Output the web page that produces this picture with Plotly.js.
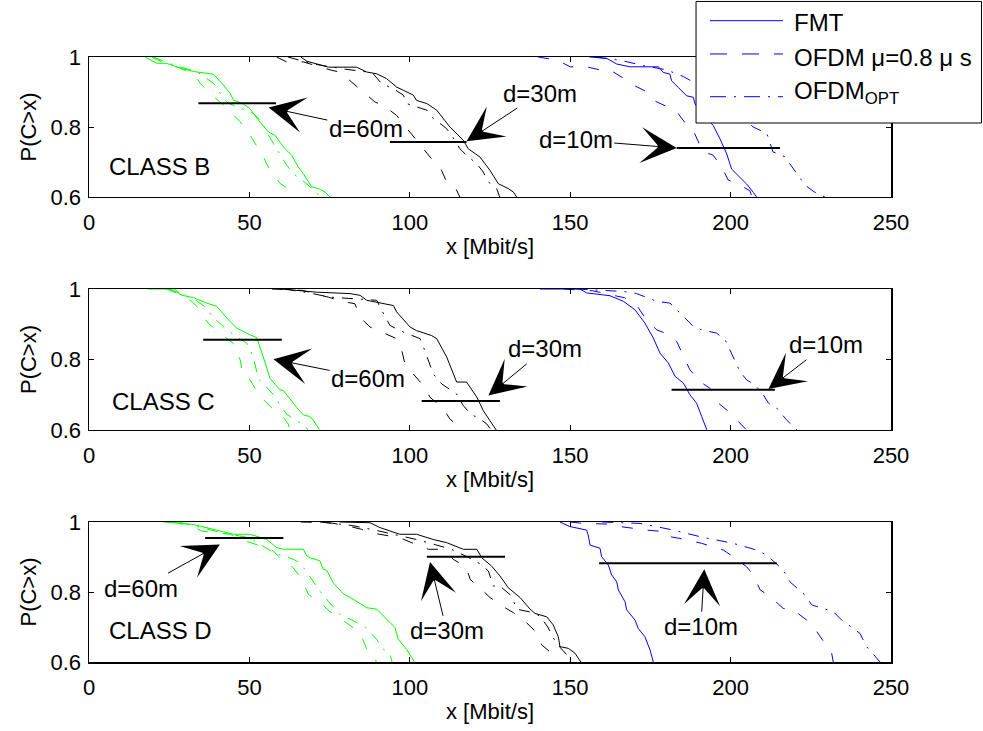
<!DOCTYPE html>
<html>
<head>
<meta charset="utf-8">
<script src="https://cdn.plot.ly/plotly-3.0.1.min.js"></script>
<style>html,body{margin:0;padding:0;background:#fff;}#chart{width:983px;height:731px;}</style>
</head>
<body>
<div id="chart"></div>
<script>
// ---------------- DATA ----------------
const xTicks = [0, 50, 100, 150, 200, 250];
const yTicks = [0.6, 0.8, 1];
const yTickText = ['0.6', '0.8', '1'];
const classes = ['CLASS B', 'CLASS C', 'CLASS D'];
const schemes = ['FMT', 'OFDM \u03bc=0.8 \u03bc s', 'OFDM<sub>OPT</sub>'];
const distances = ['d=60m', 'd=30m', 'd=10m'];

// CLASS B
const B60_FMT  = [[17.5,1],[21.1,0.982],[24.2,0.982],[28.4,0.968],[33.0,0.958],[38.8,0.951],[41.4,0.925],[44.0,0.896],[45.0,0.877],[48.1,0.866],[50.2,0.852],[53.3,0.814],[55.9,0.786],[58.0,0.776],[60.6,0.743],[63.2,0.719],[65.2,0.686],[66.8,0.667],[69.4,0.629],[71.5,0.624],[73.6,0.614],[75.1,0.6]];
const B60_OFDM = [[19.5,1],[23,0.985],[28,0.97],[33.0,0.949],[34.6,0.925],[38.8,0.887],[41.9,0.863],[45.0,0.834],[47.1,0.815],[50.2,0.777],[52.3,0.744],[54.3,0.715],[56.4,0.677],[59.5,0.639],[62.7,0.62],[63.7,0.6]];
const B60_OPT  = [[20,1],[25,0.982],[29,0.97],[33.6,0.958],[38.8,0.925],[41.9,0.882],[43.4,0.868],[47,0.855],[51.2,0.839],[53.8,0.815],[55.9,0.777],[57.5,0.753],[60.1,0.715],[61.6,0.691],[64.2,0.663],[65.8,0.653],[68.9,0.629],[70.4,0.62],[72.0,0.6]];
const B30_FMT  = [[66,1],[67.9,0.988],[74.6,0.971],[83.4,0.971],[86.6,0.957],[89.7,0.952],[92.8,0.938],[95.9,0.914],[98.0,0.905],[101.1,0.891],[102.1,0.876],[105.3,0.867],[108.4,0.848],[110.5,0.824],[112.5,0.8],[116.7,0.762],[118.2,0.738],[121.9,0.714],[125.0,0.676],[127.6,0.638],[130.7,0.624],[132.3,0.614],[133.3,0.6]];
const B30_OFDM = [[58.5,1],[61.6,0.986],[66.8,0.986],[70.4,0.976],[75.6,0.962],[78.2,0.957],[82.4,0.924],[84.5,0.909],[89.2,0.871],[91.7,0.862],[95.9,0.833],[97.5,0.814],[102.1,0.762],[103.7,0.743],[106.8,0.709],[109.4,0.686],[111.5,0.643],[114.1,0.629],[115.6,0.6]];
const B30_OPT  = [[62,1],[70,0.98],[80,0.965],[86,0.958],[88.6,0.952],[91.2,0.924],[94.9,0.909],[98.0,0.891],[99.0,0.867],[105.3,0.848],[106.8,0.829],[111.5,0.795],[114.1,0.762],[115.6,0.738],[117.7,0.719],[120.9,0.695],[122.9,0.671],[124.5,0.643],[127.1,0.624],[128,0.6]];
const B10_FMT  = [[156,1],[161.4,0.996],[164.5,0.98],[168.6,0.972],[177.5,0.972],[179.0,0.956],[181.1,0.951],[181.6,0.932],[183.7,0.913],[186.3,0.889],[188.4,0.885],[188.9,0.866],[191.5,0.835],[194.6,0.804],[196.7,0.766],[198.8,0.723],[200.3,0.68],[201.9,0.666],[205.0,0.637],[207.1,0.613],[208.1,0.6]];
const B10_OFDM = [[140,1],[146,0.991],[150,0.972],[155.1,0.972],[159.3,0.963],[162.4,0.963],[166.5,0.94],[169.6,0.92],[173.8,0.901],[175.8,0.877],[181.1,0.854],[183.2,0.844],[186.3,0.806],[188.3,0.791],[191.4,0.729],[194.5,0.72],[197.2,0.687],[199.2,0.649],[203.5,0.631],[206.0,0.618],[206.7,0.6]];
const B10_OPT  = [[158,1],[166,0.99],[173,0.975],[180.1,0.963],[185.3,0.944],[190,0.92],[195,0.89],[200,0.86],[204,0.83],[207.0,0.8],[211.3,0.782],[213.2,0.729],[216.9,0.715],[220.6,0.669],[223.2,0.634],[226,0.615],[229.4,0.6]];

// CLASS C
const C60_FMT  = [[18.5,1],[26.8,1],[28.4,0.984],[33.0,0.974],[36.7,0.96],[39.8,0.951],[42.9,0.918],[46.0,0.889],[50.2,0.87],[52.3,0.862],[54.3,0.808],[55.9,0.759],[56.4,0.747],[59.5,0.714],[60.6,0.712],[63.7,0.676],[64.7,0.664],[66.8,0.643],[68.9,0.638],[69.9,0.628],[72.0,0.598]];
const C60_OFDM = [[24,1],[28.4,0.985],[32,0.965],[34.1,0.946],[35.1,0.927],[37.5,0.9],[39.8,0.884],[41.4,0.87],[45.5,0.842],[47.1,0.799],[48.1,0.752],[50.2,0.742],[53.3,0.695],[55.4,0.676],[58,0.655],[60.6,0.636],[62.1,0.617],[62.7,0.598]];
const C60_OPT  = [[25,1],[29,0.985],[33,0.97],[36.7,0.946],[38.5,0.92],[40.8,0.903],[42.9,0.884],[46,0.865],[49.2,0.846],[51.2,0.808],[52.8,0.745],[54.9,0.726],[57.5,0.7],[60.1,0.664],[61.6,0.645],[64,0.63],[67.3,0.612],[68.4,0.598]];
const C30_FMT  = [[60,1],[71.0,0.991],[81.4,0.987],[84.5,0.982],[86.6,0.968],[91.7,0.958],[94.9,0.953],[95.9,0.935],[100.1,0.892],[102.1,0.882],[106.8,0.868],[108.4,0.859],[111.5,0.807],[114.6,0.736],[117.7,0.736],[120.9,0.693],[122.9,0.655],[125.0,0.626],[127.1,0.598]];
const C30_OFDM = [[57,1],[60.6,0.998],[66.8,0.996],[69.9,0.987],[74.6,0.977],[77.7,0.968],[82.9,0.958],[84.5,0.92],[87.6,0.892],[91.2,0.878],[95.9,0.859],[97.5,0.825],[98.5,0.788],[101,0.76],[104.2,0.726],[106.3,0.693],[110.5,0.66],[112.5,0.631],[116.7,0.598]];
const C30_OPT  = [[61,1],[68,0.99],[75.1,0.977],[84,0.972],[89.7,0.968],[90.7,0.949],[93.8,0.897],[96.9,0.882],[103.2,0.859],[104.7,0.825],[107.3,0.759],[109.9,0.731],[114.6,0.702],[116.7,0.669],[119,0.645],[121.9,0.631],[124.0,0.617],[125.5,0.598]];
const C10_FMT  = [[140.6,1],[153.1,1],[155.1,0.989],[162.4,0.981],[166.6,0.965],[170.2,0.941],[173.3,0.903],[175.9,0.861],[178.0,0.818],[180.6,0.79],[182.7,0.752],[185.3,0.733],[187.3,0.7],[189.4,0.676],[191.0,0.638],[192.6,0.6]];
const C10_OFDM = [[148,1],[157,0.995],[162,0.985],[167,0.975],[171,0.95],[174,0.91],[177,0.884],[181.1,0.87],[183.2,0.851],[185.3,0.808],[187.3,0.771],[190.5,0.737],[193.6,0.718],[196.2,0.676],[198.8,0.657],[202.4,0.624],[205.5,0.595]];
const C10_OPT  = [[152,1],[166.6,0.993],[170.7,0.987],[174,0.975],[177,0.965],[181.1,0.96],[185.3,0.922],[188.4,0.894],[191,0.884],[195.6,0.875],[198.3,0.856],[199.8,0.827],[200.8,0.804],[202.9,0.766],[205,0.742],[207.6,0.728],[210.2,0.7],[211.8,0.676],[214.4,0.662],[217.5,0.628],[220.1,0.605],[220.7,0.6]];

// CLASS D
const D60_FMT  = [[23.2,1],[32.5,0.993],[38.7,0.979],[45.0,0.965],[50.2,0.965],[55.4,0.95],[58.5,0.927],[60.6,0.922],[66.8,0.922],[67.9,0.903],[68.9,0.898],[72.0,0.889],[73.0,0.865],[74.1,0.862],[76.2,0.825],[79.3,0.795],[82.4,0.779],[86.6,0.755],[89.7,0.751],[93.8,0.712],[95.4,0.698],[96.4,0.665],[99.0,0.636],[101.6,0.598]];
const D60_OFDM = [[26,1],[32,0.989],[35.1,0.974],[40.3,0.969],[44,0.965],[48.6,0.946],[52.3,0.936],[56.9,0.922],[60.1,0.893],[62,0.88],[63.7,0.869],[66.3,0.836],[68.4,0.793],[71.5,0.774],[75,0.745],[79,0.72],[82.4,0.698],[84.5,0.684],[86.6,0.636],[89.2,0.617],[89.5,0.6]];
const D60_OPT  = [[28,1],[35,0.985],[42,0.968],[50,0.955],[54.9,0.927],[58,0.91],[62,0.9],[64.7,0.889],[67.3,0.865],[69.4,0.836],[71.5,0.808],[73.6,0.784],[76.2,0.755],[78.2,0.736],[82,0.72],[86,0.7],[89.7,0.665],[91.2,0.641],[93.8,0.622],[94.5,0.6]];
const D30_FMT  = [[78.2,1],[87.6,0.998],[90.7,0.984],[96.9,0.965],[102.1,0.965],[107.3,0.95],[111.5,0.941],[116.7,0.922],[120.9,0.922],[122.4,0.898],[125.5,0.874],[128.1,0.846],[130.7,0.812],[134.4,0.784],[137.5,0.751],[139.0,0.739],[142.7,0.729],[144.7,0.706],[146.3,0.672],[146.8,0.644],[149.4,0.639],[151.5,0.625],[153.6,0.596]];
const D30_OFDM = [[66,1],[75,0.998],[80,0.99],[85,0.979],[88.1,0.969],[93.3,0.96],[96.9,0.955],[103.2,0.931],[105.8,0.922],[110.5,0.922],[113.6,0.893],[116,0.88],[117.7,0.869],[118.8,0.836],[121.9,0.812],[125,0.784],[127.5,0.77],[129.7,0.755],[132.3,0.741],[136.4,0.712],[139,0.689],[141.1,0.649],[144.2,0.625],[146,0.6]];
const D30_OPT  = [[72,1],[82,0.99],[90,0.975],[97,0.96],[102.1,0.95],[108,0.935],[113,0.922],[118,0.9],[122,0.88],[124.5,0.86],[126,0.817],[128.1,0.817],[131.7,0.789],[133.3,0.751],[136,0.745],[138.5,0.741],[140.6,0.731],[143,0.7],[145,0.665],[147,0.64],[149,0.62],[150,0.6]];
const D10_FMT  = [[146.8,1],[149.9,0.987],[155.1,0.977],[155.6,0.963],[156.2,0.934],[159.3,0.925],[159.8,0.901],[161.9,0.877],[162.9,0.849],[164.5,0.829],[165.0,0.806],[167.1,0.772],[167.6,0.749],[170.2,0.72],[171.2,0.696],[173.3,0.672],[174.9,0.634],[175.9,0.6]];
const D10_OFDM = [[150,1],[154.1,0.996],[161.9,0.994],[165.5,0.987],[173.8,0.977],[180.1,0.972],[181.1,0.958],[184.2,0.953],[191.0,0.939],[194.6,0.929],[197.7,0.92],[200.8,0.901],[205.0,0.872],[207.1,0.849],[209.2,0.806],[212.3,0.787],[216.4,0.753],[219.5,0.749],[223.7,0.72],[225.8,0.701],[229.4,0.653],[231.5,0.625],[232,0.6]];
const D10_OPT  = [[160,1],[171.8,0.996],[182.1,0.977],[190.5,0.958],[200.8,0.939],[208.1,0.92],[211.2,0.906],[216.4,0.863],[218.5,0.829],[223.2,0.791],[225.3,0.763],[232.0,0.744],[234.6,0.72],[240.3,0.682],[242.4,0.644],[246.6,0.6]];

// Reference bars marking each distance group: [subplot, x start, x end, P level]
const markLines = [
  [1, 34.1, 58.3, 0.868], [1, 93.8, 117.7, 0.757], [1, 183.2, 215.4, 0.74],
  [2, 35.6, 60.1, 0.856], [2, 103.7, 128.1, 0.682], [2, 181.6, 213.8, 0.714],
  [3, 36.2, 60.6, 0.954], [3, 105.3, 129.7, 0.901], [3, 159.0, 214.4, 0.882]
];

// ---------------- BUILD ----------------
const distColor = {60: '#00ff00', 30: '#000000', 10: '#0000ff'};
const schemeDash = {FMT: 'solid', OFDM: '11px,15px', OPT: '11px,8px,2px,8px'};
const series = [
  [1,60,'FMT',B60_FMT],[1,60,'OFDM',B60_OFDM],[1,60,'OPT',B60_OPT],
  [1,30,'FMT',B30_FMT],[1,30,'OFDM',B30_OFDM],[1,30,'OPT',B30_OPT],
  [1,10,'FMT',B10_FMT],[1,10,'OFDM',B10_OFDM],[1,10,'OPT',B10_OPT],
  [2,60,'FMT',C60_FMT],[2,60,'OFDM',C60_OFDM],[2,60,'OPT',C60_OPT],
  [2,30,'FMT',C30_FMT],[2,30,'OFDM',C30_OFDM],[2,30,'OPT',C30_OPT],
  [2,10,'FMT',C10_FMT],[2,10,'OFDM',C10_OFDM],[2,10,'OPT',C10_OPT],
  [3,60,'FMT',D60_FMT],[3,60,'OFDM',D60_OFDM],[3,60,'OPT',D60_OPT],
  [3,30,'FMT',D30_FMT],[3,30,'OFDM',D30_OFDM],[3,30,'OPT',D30_OPT],
  [3,10,'FMT',D10_FMT],[3,10,'OFDM',D10_OFDM],[3,10,'OPT',D10_OPT]
];
const sfx = k => (k === 1 ? '' : String(k));

const traces = [];
series.forEach(([k, d, s, pts]) => {
  traces.push({
    type: 'scatter', mode: 'lines',
    x: pts.map(p => p[0]), y: pts.map(p => p[1]),
    xaxis: 'x' + sfx(k), yaxis: 'y' + sfx(k),
    line: {color: distColor[d], width: 1, dash: schemeDash[s]},
    hoverinfo: 'skip', showlegend: false
  });
});
markLines.forEach(([k, x0, x1, p]) => {
  traces.push({
    type: 'scatter', mode: 'lines', x: [x0, x1], y: [p, p],
    xaxis: 'x' + sfx(k), yaxis: 'y' + sfx(k),
    line: {color: '#000', width: 2}, hoverinfo: 'skip', showlegend: false
  });
});

const FONT = 'Liberation Sans, Arial, Helvetica, sans-serif';
const xAx = (anchor) => ({
  anchor: anchor, range: [0, 250], tickvals: xTicks, ticktext: xTicks.map(String),
  showline: true, mirror: 'ticks', linecolor: '#000', linewidth: 1.5,
  ticks: 'inside', ticklen: 5, tickwidth: 1, tickcolor: '#000',
  showgrid: false, zeroline: false, tickfont: {size: 22}, ticklabelstandoff: 5,
  title: {text: 'x [Mbit/s]', font: {size: 22}, standoff: 4}
});
const yAx = (anchor, domain) => ({
  anchor: anchor, domain: domain, range: [0.6, 1], tickvals: yTicks, ticktext: yTickText,
  showline: true, mirror: 'ticks', linecolor: '#000', linewidth: 1.5,
  ticks: 'inside', ticklen: 5, tickwidth: 1, tickcolor: '#000',
  showgrid: false, zeroline: false, tickfont: {size: 22}, ticklabelstandoff: 2,
  title: {text: 'P(C&gt;x)', font: {size: 22}, standoff: 8}
});

const ann = [];
function arrowNote(k, text, tip, tail) {
  ann.push({
    xref: 'x' + sfx(k), yref: 'y' + sfx(k), axref: 'x' + sfx(k), ayref: 'y' + sfx(k),
    x: tip[0], y: tip[1], ax: tail[0], ay: tail[1], text: text,
    showarrow: true, arrowhead: 3, arrowsize: 6, arrowwidth: 1, arrowcolor: '#000',
    standoff: 0, font: {size: 24, color: '#000'}
  });
}
arrowNote(1, distances[0], [56, 0.856], [86.3, 0.796]);
arrowNote(1, distances[1], [117.7, 0.759], [140.6, 0.897]);
arrowNote(1, distances[2], [183.2, 0.74], [151.7, 0.763]);
arrowNote(2, distances[0], [57.5, 0.801], [87, 0.747]);
arrowNote(2, distances[1], [124.5, 0.698], [142.1, 0.83]);
arrowNote(2, distances[2], [211.8, 0.716], [229.7, 0.842]);
arrowNote(3, distances[0], [40.8, 0.936], [16.2, 0.811]);
arrowNote(3, distances[1], [106.3, 0.886], [111.5, 0.689]);
arrowNote(3, distances[2], [191.8, 0.865], [190.7, 0.701]);

[[1, 5.5, 0.687], [2, 6.5, 0.68], [3, 5.5, 0.691]].forEach(([k, x, y], i) => {
  ann.push({xref: 'x' + sfx(k), yref: 'y' + sfx(k), x: x, y: y, text: classes[i],
    showarrow: false, xanchor: 'left', yanchor: 'middle', font: {size: 24, color: '#000'}});
});

// Legend (drawn in paper coordinates)
const shapes = [{
  type: 'rect', xref: 'paper', yref: 'paper', x0: 0.7569, x1: 1.1128, y0: 0.8909, y1: 1.0918,
  line: {color: '#000', width: 1}, fillcolor: '#fff', layer: 'above'
}];
const legY = [1.0600, 1.0050, 0.9344];
const legDash = ['solid', '17px,15px', '16px,8px,2px,8px'];
const legTextY = [1.0562, 1.0, 0.9405];
legY.forEach((y, i) => {
  shapes.push({type: 'line', xref: 'paper', yref: 'paper', x0: 0.7743, x1: 0.8653, y0: y, y1: y,
    line: {color: '#0000ff', width: 1, dash: legDash[i]}, layer: 'above'});
  ann.push({xref: 'paper', yref: 'paper', x: 0.8766, y: legTextY[i], text: schemes[i],
    showarrow: false, xanchor: 'left', yanchor: 'middle', font: {size: 24, color: '#000'}});
});

const layout = {
  width: 983, height: 731,
  margin: {l: 89, r: 92, t: 57, b: 69, pad: 0},
  paper_bgcolor: '#fff', plot_bgcolor: '#fff', showlegend: false,
  font: {family: FONT, size: 22, color: '#000'},
  xaxis: xAx('y'), yaxis: yAx('x', [0.7686, 1]),
  xaxis2: xAx('y2'), yaxis2: yAx('x2', [0.3835, 0.6165]),
  xaxis3: xAx('y3'), yaxis3: yAx('x3', [0, 0.2314]),
  annotations: ann, shapes: shapes
};

Plotly.newPlot('chart', traces, layout, {displayModeBar: false, staticPlot: true});
</script>
</body>
</html>
